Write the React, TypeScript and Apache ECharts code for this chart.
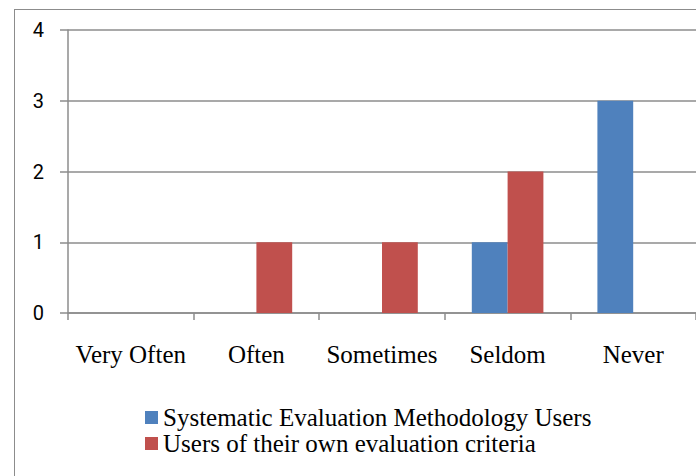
import React, { useEffect, useRef } from "react";
import * as echarts from "echarts";

const categories = ["Very Often", "Often", "Sometimes", "Seldom", "Never"];
const systematicUsers = [0, 0, 0, 1, 3];
const ownCriteriaUsers = [0, 1, 1, 2, 0];
const yTicks = [0, 1, 2, 3, 4];
const seriesNames = ["Systematic Evaluation Methodology Users", "Users of their own evaluation criteria"];

export default function App() {
  const ref = useRef<HTMLDivElement>(null);
  useEffect(() => {
    if (!ref.current) return;
    const chart = echarts.init(ref.current, null, { renderer: "svg" });
    const lineColor = "#8c8c8c";
    chart.setOption({
      animation: false,
      grid: { left: 68, right: -2, top: 30, bottom: 163 },
      legend: {
        orient: "vertical",
        left: 140,
        top: 400,
        itemWidth: 13,
        itemHeight: 13,
        itemGap: 1,
        icon: "rect",
        textStyle: { fontFamily: "Liberation Serif", fontSize: 25, color: "#010101" },
      },
      xAxis: {
        type: "category",
        data: categories,
        axisLine: { lineStyle: { color: lineColor, width: 1.5 } },
        axisTick: { show: true, length: 7, lineStyle: { color: lineColor, width: 1.5 } },
        axisLabel: { fontFamily: "Liberation Serif", fontSize: 25, color: "#000000", margin: 29, interval: 0 },
      },
      yAxis: {
        type: "value",
        min: yTicks[0],
        max: yTicks[yTicks.length - 1],
        interval: 1,
        axisLine: { show: true, lineStyle: { color: lineColor, width: 1.5 } },
        axisTick: { show: true, length: 8, lineStyle: { color: lineColor, width: 1.5 } },
        splitLine: { show: true, lineStyle: { color: lineColor, width: 1.5 } },
        axisLabel: { fontFamily: "Roboto", fontSize: 20, color: "#020202", margin: 24 },
      },
      series: [
        {
          name: seriesNames[0],
          type: "bar",
          data: systematicUsers,
          barGap: "0%",
          barCategoryGap: "43%",
          itemStyle: { color: "#4F81BD" },
        },
        {
          name: seriesNames[1],
          type: "bar",
          data: ownCriteriaUsers,
          barGap: "0%",
          barCategoryGap: "43%",
          itemStyle: { color: "#C0504D" },
        },
      ],
    });
    return () => chart.dispose();
  }, []);
  return (
    <div style={{ position: "fixed", left: 0, top: 0, width: 696, height: 476, background: "#fff", overflow: "hidden" }}>
      <div
        style={{
          position: "absolute",
          left: 14,
          top: 9,
          width: 720,
          height: 520,
          border: "1.5px solid #8c8c8c",
          boxSizing: "border-box",
        }}
      />
      <div ref={ref} style={{ position: "absolute", left: 0, top: 0, width: 696, height: 476 }} />
    </div>
  );
}
